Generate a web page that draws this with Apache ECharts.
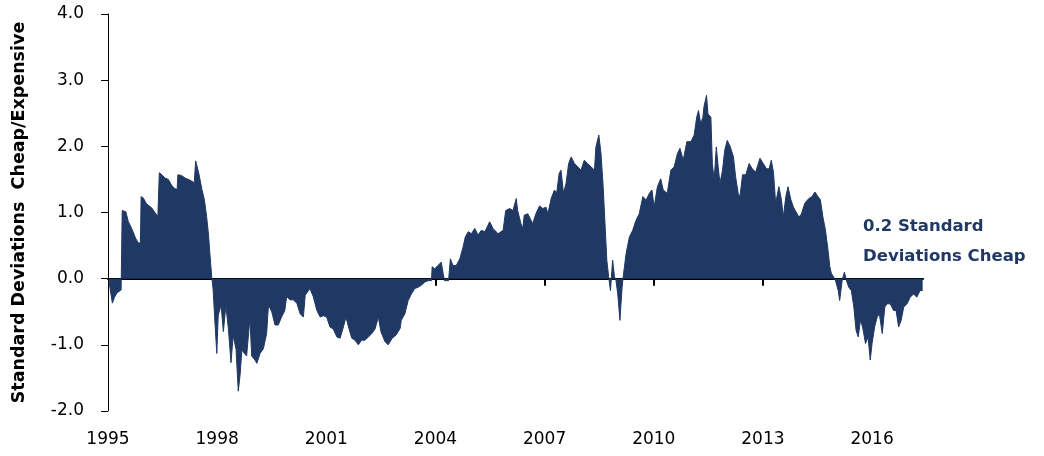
<!DOCTYPE html>
<html lang="en">
<head>
    <meta charset="UTF-8">
    <title>Standard Deviations Cheap/Expensive</title>
    <style type="text/css">
        *{
            margin: 0px;
            padding: 0px;
        }
        body{
            background-color: #fff;
        }
        #chart{
            width: 1044px;
            height: 456px;
        }
    </style>
</head>
<body>

<div id="chart"></div>

<script src="https://cdn.jsdelivr.net/npm/echarts@6/dist/echarts.min.js"></script>
<script type="text/javascript">

    // decimal years
    var years = [
        1995.03, 1995.12, 1995.18, 1995.24, 1995.36, 1995.38, 1995.39, 1995.49, 1995.56, 1995.65,
        1995.76, 1995.83, 1995.89, 1995.91, 1995.97, 1996.06, 1996.20, 1996.29, 1996.37, 1996.39,
        1996.41, 1996.48, 1996.57, 1996.66, 1996.75, 1996.84, 1996.90, 1996.92, 1997.02, 1997.12,
        1997.25, 1997.37, 1997.41, 1997.44, 1997.50, 1997.58, 1997.65, 1997.71, 1997.76, 1997.80,
        1997.85, 1997.89, 1997.94, 1997.99, 1998.03, 1998.11, 1998.17, 1998.24, 1998.31, 1998.38,
        1998.44, 1998.52, 1998.58, 1998.63, 1998.68, 1998.72, 1998.81, 1998.90, 1998.95, 1999.04,
        1999.09, 1999.18, 1999.27, 1999.36, 1999.41, 1999.50, 1999.59, 1999.68, 1999.77, 1999.86,
        1999.91, 2000.00, 2000.09, 2000.19, 2000.28, 2000.37, 2000.42, 2000.55, 2000.64, 2000.74,
        2000.83, 2000.92, 2001.01, 2001.10, 2001.19, 2001.29, 2001.38, 2001.47, 2001.54, 2001.61,
        2001.70, 2001.79, 2001.88, 2001.97, 2002.06, 2002.16, 2002.25, 2002.34, 2002.43, 2002.50,
        2002.61, 2002.70, 2002.81, 2002.92, 2003.03, 2003.06, 2003.16, 2003.25, 2003.34, 2003.43,
        2003.52, 2003.61, 2003.71, 2003.80, 2003.89, 2003.91, 2003.98, 2004.07, 2004.16, 2004.21,
        2004.25, 2004.30, 2004.36, 2004.41, 2004.48, 2004.57, 2004.67, 2004.76, 2004.82, 2004.90,
        2004.99, 2005.08, 2005.17, 2005.26, 2005.36, 2005.49, 2005.58, 2005.72, 2005.86, 2005.93,
        2006.04, 2006.13, 2006.22, 2006.26, 2006.35, 2006.40, 2006.44, 2006.54, 2006.63, 2006.67,
        2006.76, 2006.86, 2006.95, 2007.04, 2007.09, 2007.18, 2007.27, 2007.33, 2007.40, 2007.45,
        2007.52, 2007.59, 2007.66, 2007.73, 2007.82, 2007.91, 2008.00, 2008.09, 2008.18, 2008.28,
        2008.37, 2008.41, 2008.49, 2008.55, 2008.61, 2008.66, 2008.71, 2008.76, 2008.81, 2008.87,
        2008.92, 2008.96, 2009.01, 2009.07, 2009.13, 2009.16, 2009.24, 2009.33, 2009.42, 2009.51,
        2009.60, 2009.70, 2009.79, 2009.88, 2009.95, 2010.01, 2010.10, 2010.19, 2010.26, 2010.37,
        2010.47, 2010.56, 2010.65, 2010.72, 2010.81, 2010.91, 2011.02, 2011.11, 2011.18, 2011.23,
        2011.29, 2011.35, 2011.38, 2011.45, 2011.49, 2011.57, 2011.61, 2011.66, 2011.72, 2011.77,
        2011.82, 2011.89, 2011.95, 2012.02, 2012.10, 2012.19, 2012.25, 2012.32, 2012.37, 2012.44,
        2012.53, 2012.62, 2012.71, 2012.80, 2012.92, 2013.01, 2013.10, 2013.17, 2013.23, 2013.29,
        2013.35, 2013.44, 2013.51, 2013.56, 2013.63, 2013.69, 2013.77, 2013.84, 2013.89, 2013.99,
        2014.06, 2014.15, 2014.26, 2014.35, 2014.43, 2014.49, 2014.58, 2014.65, 2014.72, 2014.79,
        2014.84, 2014.88, 2014.95, 2014.99, 2015.07, 2015.11, 2015.18, 2015.24, 2015.29, 2015.36,
        2015.43, 2015.50, 2015.56, 2015.62, 2015.68, 2015.74, 2015.82, 2015.89, 2015.95, 2016.00,
        2016.07, 2016.14, 2016.20, 2016.28, 2016.35, 2016.41, 2016.50, 2016.59, 2016.66, 2016.73,
        2016.80, 2016.87, 2016.96, 2017.05, 2017.14, 2017.23, 2017.32, 2017.39
    ];

    var values = [
        -0.05, -0.37, -0.28, -0.22, -0.17, -0.15, 1.03, 1.01, 0.86, 0.76,
        0.61, 0.54, 0.54, 1.24, 1.22, 1.13, 1.07, 1.00, 0.94, 0.93,
        1.60, 1.57, 1.52, 1.50, 1.41, 1.36, 1.35, 1.57, 1.56, 1.52,
        1.49, 1.45, 1.78, 1.77, 1.58, 1.35, 1.19, 0.94, 0.68, 0.38,
        0.03, -0.17, -0.67, -1.13, -0.55, -0.40, -0.80, -0.41, -0.76, -1.27,
        -0.86, -1.07, -1.70, -1.46, -1.08, -1.08, -1.17, -0.60, -1.17, -1.23,
        -1.28, -1.13, -1.06, -0.83, -0.40, -0.50, -0.70, -0.70, -0.58, -0.48,
        -0.27, -0.32, -0.32, -0.37, -0.53, -0.58, -0.25, -0.15, -0.27, -0.48,
        -0.58, -0.56, -0.58, -0.73, -0.76, -0.88, -0.90, -0.73, -0.58, -0.73,
        -0.90, -0.93, -1.00, -0.93, -0.93, -0.88, -0.83, -0.76, -0.58, -0.80,
        -0.95, -1.00, -0.90, -0.85, -0.75, -0.63, -0.53, -0.33, -0.23, -0.15,
        -0.13, -0.10, -0.05, -0.03, -0.03, 0.18, 0.15, 0.20, 0.25, 0.08,
        -0.03, -0.05, -0.03, 0.30, 0.20, 0.20, 0.30, 0.48, 0.63, 0.71,
        0.68, 0.76, 0.66, 0.73, 0.71, 0.86, 0.76, 0.68, 0.73, 1.03,
        1.06, 1.03, 1.21, 1.03, 0.83, 0.76, 0.96, 0.98, 0.88, 0.83,
        0.98, 1.10, 1.06, 1.08, 0.98, 1.21, 1.34, 1.29, 1.59, 1.64,
        1.29, 1.44, 1.74, 1.84, 1.74, 1.69, 1.64, 1.79, 1.74, 1.69,
        1.64, 1.99, 2.17, 1.89, 1.39, 0.83, 0.28, 0.03, -0.18, 0.28,
        0.03, -0.02, -0.23, -0.63, -0.13, 0.03, 0.38, 0.63, 0.73, 0.88,
        0.98, 1.24, 1.19, 1.29, 1.34, 1.08, 1.39, 1.51, 1.34, 1.29,
        1.64, 1.69, 1.89, 1.97, 1.79, 2.07, 2.07, 2.17, 2.44, 2.54,
        2.34, 2.44, 2.60, 2.77, 2.49, 2.44, 1.74, 1.49, 1.99, 1.69,
        1.44, 1.64, 1.94, 2.09, 2.00, 1.84, 1.54, 1.29, 1.24, 1.57,
        1.57, 1.74, 1.66, 1.61, 1.82, 1.74, 1.66, 1.66, 1.79, 1.61,
        1.14, 1.39, 1.19, 0.93, 1.24, 1.39, 1.19, 1.08, 1.03, 0.93,
        0.98, 1.14, 1.21, 1.24, 1.31, 1.26, 1.19, 0.93, 0.73, 0.43,
        0.18, 0.08, 0.02, -0.02, -0.18, -0.33, -0.02, 0.10, -0.02, -0.13,
        -0.18, -0.43, -0.78, -0.88, -0.63, -0.73, -0.98, -0.88, -1.23, -0.98,
        -0.73, -0.58, -0.53, -0.83, -0.43, -0.38, -0.38, -0.48, -0.48, -0.73,
        -0.63, -0.43, -0.38, -0.28, -0.23, -0.28, -0.18, -0.18
    ];

    var labelYears = [1995, 1998, 2001, 2004, 2007, 2010, 2013, 2016];
    var tickYears = [1998, 2001, 2004, 2007, 2010, 2013, 2016];
    var note = '0.2 Standard\nDeviations Cheap';

    var navy = '#1F3864';
    var font = 'DejaVu Sans';

    var seriesData = [];
    for (var i = 0; i < years.length; i++) {
        seriesData.push([years[i], values[i]]);
    }

    var myChart = echarts.init(document.getElementById('chart'), null, {renderer: 'canvas'});

    var option = {
        animation: false,
        grid: {
            left: 108,
            right: 121,
            top: 14,
            bottom: 45
        },
        xAxis: [
            {
                // labels along the bottom
                type: 'value',
                min: 1995,
                max: 2017.4,
                position: 'bottom',
                axisLine: {show: false, onZero: false},
                axisTick: {show: false},
                splitLine: {show: false},
                axisLabel: {
                    customValues: labelYears,
                    margin: 20,
                    color: '#000',
                    fontFamily: font,
                    fontSize: 17,
                    formatter: function (v) {
                        return String(v);
                    }
                }
            },
            {
                // the zero line with its small ticks
                type: 'value',
                min: 1995,
                max: 2017.4,
                position: 'top',
                axisLine: {show: true, onZero: true, lineStyle: {color: '#000', width: 2}},
                axisTick: {
                    show: true,
                    inside: true,
                    length: 7,
                    customValues: tickYears,
                    lineStyle: {color: '#000', width: 2}
                },
                axisLabel: {show: false},
                splitLine: {show: false}
            }
        ],
        yAxis: {
            type: 'value',
            min: -2,
            max: 4,
            interval: 1,
            name: 'Standard Deviations  Cheap/Expensive',
            nameLocation: 'middle',
            nameGap: 80,
            nameTextStyle: {
                color: '#000',
                fontFamily: font,
                fontWeight: 'bold',
                fontSize: 17.5
            },
            axisLine: {show: true, lineStyle: {color: '#000', width: 1}},
            axisTick: {show: true, length: 7, lineStyle: {color: '#000', width: 1}},
            splitLine: {show: false},
            axisLabel: {
                margin: 24,
                color: '#000',
                fontFamily: font,
                fontSize: 17,
                formatter: function (v) {
                    return v.toFixed(1);
                }
            }
        },
        graphic: [
            {
                type: 'text',
                left: 863,
                top: 212,
                style: {
                    text: note,
                    fill: navy,
                    font: 'bold 16.5px "DejaVu Sans"',
                    lineHeight: 30
                }
            }
        ],
        series: [
            {
                name: 'Cheap/Expensive',
                type: 'line',
                xAxisIndex: 0,
                data: seriesData,
                symbol: 'none',
                lineStyle: {color: navy, width: 1},
                areaStyle: {color: navy, opacity: 1, origin: 0},
                z: 1
            }
        ]
    };

    myChart.setOption(option);

</script>
</body>
</html>
